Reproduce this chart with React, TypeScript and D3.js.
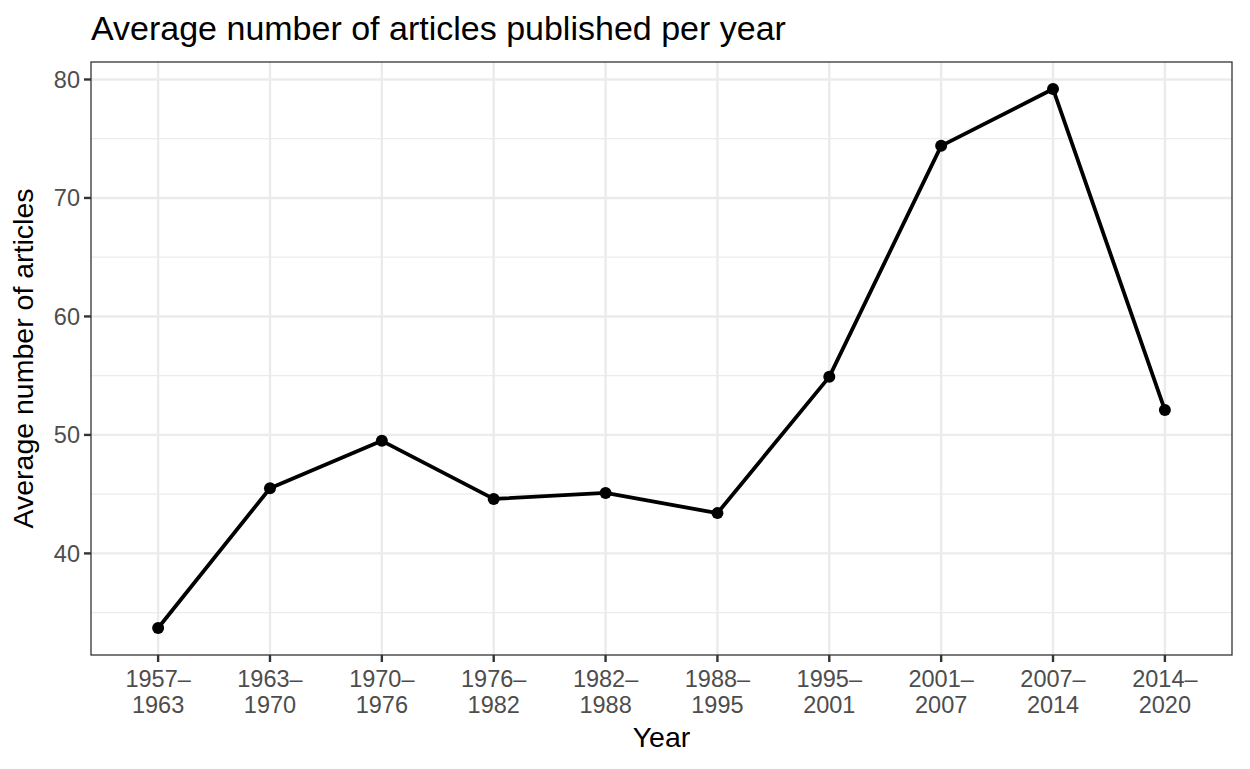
import { useEffect, useRef } from "react";
import * as d3 from "d3";

const periods = [
  "1957–1963", "1963–1970", "1970–1976", "1976–1982", "1982–1988",
  "1988–1995", "1995–2001", "2001–2007", "2007–2014", "2014–2020",
];
const avgArticles = [33.7, 45.5, 49.5, 44.6, 45.1, 43.4, 54.9, 74.4, 79.2, 52.1];
const yTicks = [40, 50, 60, 70, 80];

const App = () => {
  const svgRef = useRef<SVGSVGElement | null>(null);

  useEffect(() => {
    const W = 1250, H = 769;
    const margin = { top: 62, right: 18, bottom: 114, left: 91 };
    const width = 1232 - margin.left;
    const height = 655 - margin.top;
    const font = "'Liberation Sans', Arial, Helvetica, sans-serif";

    const root = d3.select(svgRef.current).attr("width", W).attr("height", H);
    root.selectAll("*").remove();
    root.append("rect").attr("width", W).attr("height", H).attr("fill", "white");

    const svg = root.append("g").attr("transform", `translate(${margin.left},${margin.top})`);

    const xScale = d3.scaleLinear().domain([0.4, periods.length + 0.6]).range([0, width]);
    const lo = d3.min(avgArticles)!, hi = d3.max(avgArticles)!;
    const pad = (hi - lo) * 0.05;
    const yScale = d3.scaleLinear().domain([lo - pad, hi + pad]).range([height, 0]);

    // minor grid
    const minor = d3.range(35, 81, 10);
    svg.selectAll(".minor").data(minor).enter().append("line")
      .attr("x1", 0).attr("x2", width)
      .attr("y1", (d) => yScale(d)).attr("y2", (d) => yScale(d))
      .attr("stroke", "#ebebeb").attr("stroke-width", 1.2);

    // major grid
    svg.selectAll(".ymajor").data(yTicks).enter().append("line")
      .attr("x1", 0).attr("x2", width)
      .attr("y1", (d) => yScale(d)).attr("y2", (d) => yScale(d))
      .attr("stroke", "#ebebeb").attr("stroke-width", 2.4);
    svg.selectAll(".xmajor").data(periods).enter().append("line")
      .attr("x1", (_, i) => xScale(i + 1)).attr("x2", (_, i) => xScale(i + 1))
      .attr("y1", 0).attr("y2", height)
      .attr("stroke", "#ebebeb").attr("stroke-width", 2.4);

    // line + points
    const line = d3.line<number>()
      .x((_, i) => xScale(i + 1))
      .y((d) => yScale(d));
    svg.append("path").datum(avgArticles)
      .attr("d", line).attr("fill", "none")
      .attr("stroke", "black").attr("stroke-width", 3.8)
      .attr("stroke-linejoin", "round");
    svg.selectAll(".pt").data(avgArticles).enter().append("circle")
      .attr("cx", (_, i) => xScale(i + 1)).attr("cy", (d) => yScale(d))
      .attr("r", 6).attr("fill", "black");

    // panel border
    svg.append("rect").attr("width", width).attr("height", height)
      .attr("fill", "none").attr("stroke", "#333333").attr("stroke-width", 1.3);

    // y axis
    const yAxis = svg.append("g");
    yTicks.forEach((t) => {
      yAxis.append("line").attr("x1", -7).attr("x2", 0)
        .attr("y1", yScale(t)).attr("y2", yScale(t))
        .attr("stroke", "#333333").attr("stroke-width", 2.4);
      yAxis.append("text").attr("x", -11).attr("y", yScale(t))
        .attr("dy", "0.36em").attr("text-anchor", "end")
        .attr("font-family", font).attr("font-size", 23.5).attr("fill", "#4d4d4d")
        .text(t);
    });

    // x axis
    const xAxis = svg.append("g").attr("transform", `translate(0,${height})`);
    periods.forEach((p, i) => {
      const x = xScale(i + 1);
      xAxis.append("line").attr("x1", x).attr("x2", x).attr("y1", 0).attr("y2", 7)
        .attr("stroke", "#333333").attr("stroke-width", 2.4);
      const [a, b] = p.split("–");
      const t = xAxis.append("text").attr("text-anchor", "middle")
        .attr("font-family", font).attr("font-size", 23.5).attr("fill", "#4d4d4d");
      t.append("tspan").attr("x", x).attr("y", 32).text(a + "–");
      t.append("tspan").attr("x", x).attr("y", 58).text(b);
    });

    // axis titles
    svg.append("text").attr("x", width / 2).attr("y", height + 92)
      .attr("text-anchor", "middle").attr("font-family", font).attr("font-size", 28.5)
      .attr("fill", "black").text("Year");
    svg.append("text").attr("transform", `translate(${-58},${height / 2}) rotate(-90)`)
      .attr("text-anchor", "middle").attr("font-family", font).attr("font-size", 28.5)
      .attr("fill", "black").text("Average number of articles");

    // title
    root.append("text").attr("x", 91).attr("y", 40)
      .attr("font-family", font).attr("font-size", 34).attr("fill", "black")
      .text("Average number of articles published per year");
  }, []);

  return <svg ref={svgRef} style={{ display: "block", position: "absolute", left: 0, top: 0 }}></svg>;
};

export default App;
